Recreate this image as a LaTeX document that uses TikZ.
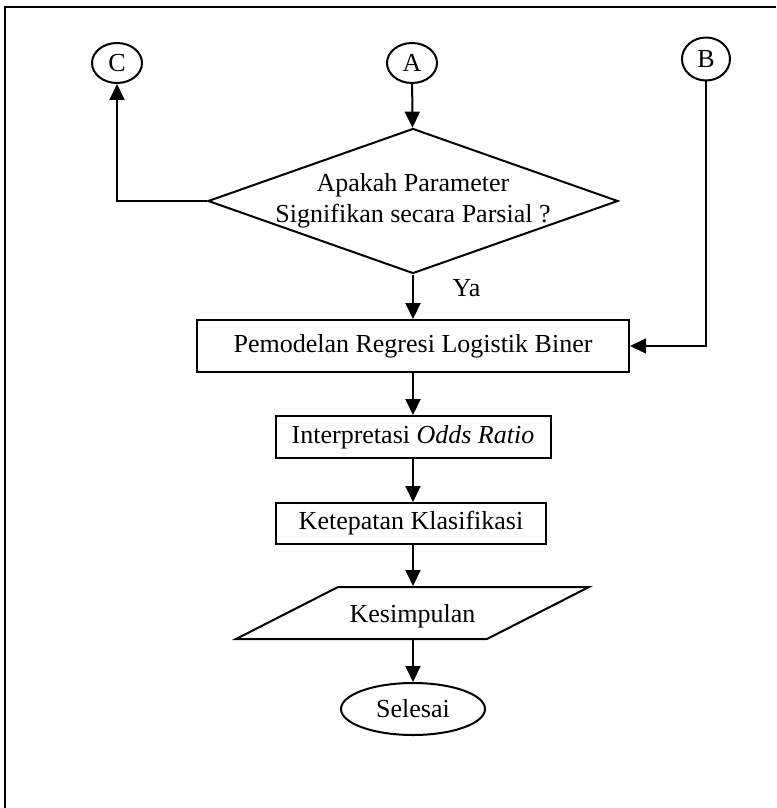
\documentclass[tikz,border=0pt]{standalone}
\usepackage{fontspec}
\setmainfont{Liberation Serif}
\usepackage{tikz}
\usetikzlibrary{positioning, arrows.meta, shapes.geometric}

\begin{document}
\begin{tikzpicture}[x=0.5pt, y=-0.5pt, >={Triangle[width=7.5pt,length=8pt]},
    line width=1pt, font=\fontsize{13}{15.6}\selectfont,
    conn/.style={draw, ellipse, inner sep=0pt, minimum width=25pt, minimum height=20pt},
    proc/.style={draw, rectangle, inner sep=0pt, minimum height=21pt},
    dec/.style={draw, diamond, aspect=2.83, inner sep=-8pt, align=center,
        minimum width=205pt, minimum height=72.5pt},
    io/.style={draw, trapezium, trapezium left angle=27, trapezium right angle=153,
        trapezium stretches body, inner xsep=0pt, inner ysep=0pt,
        text height=17.5pt, text depth=8.5pt, minimum width=176.5pt},
    term/.style={draw, ellipse, inner sep=0pt, minimum width=72pt, minimum height=26pt}]

\useasboundingbox (0,0) rectangle (776,808);

% Frame
\draw (4.7,808) -- (4.7,7) -- (776,7);

% Connectors
\node[conn] (C) at (117,63) {C};
\node[conn] (A) at (412,63) {A};
\node[conn, minimum width=24pt, minimum height=21.5pt] (B) at (706,59) {B};

% Decision
\node[dec] (test) at (413,201) {Apakah Parameter\\Signifikan secara Parsial ?};

% Steps
\node[proc, minimum width=216pt, minimum height=26pt] (model) at (413,346) {Pemodelan Regresi Logistik Biner};
\node[proc, minimum width=137.5pt] (odds) at (413,437) {Interpretasi \textit{Odds Ratio}};
\node[proc, minimum width=135pt, minimum height=20.5pt] (klas) at (411,523.5) {Ketepatan Klasifikasi};
\node[io] (kes) at (412.5,613) {Kesimpulan};
\node[term] (end) at (413,709) {Selesai};

% Arrows
\draw[->] (A) -- (test);
\draw[->] (test.west) -| (C);
\draw[->] (test.south) -- node[pos=0.3, anchor=west, xshift=16pt] (ya) {Ya} (model.north);
\draw[->, line width=0.7pt] (B.south) |- (model.east);
\draw[->] (model) -- (odds);
\draw[->] (odds) -- (odds |- klas.north);
\draw[->] (odds |- klas.south) -- (odds |- kes.north);
\draw[->] (odds |- kes.south) -- (end);

\end{tikzpicture}
\end{document}
